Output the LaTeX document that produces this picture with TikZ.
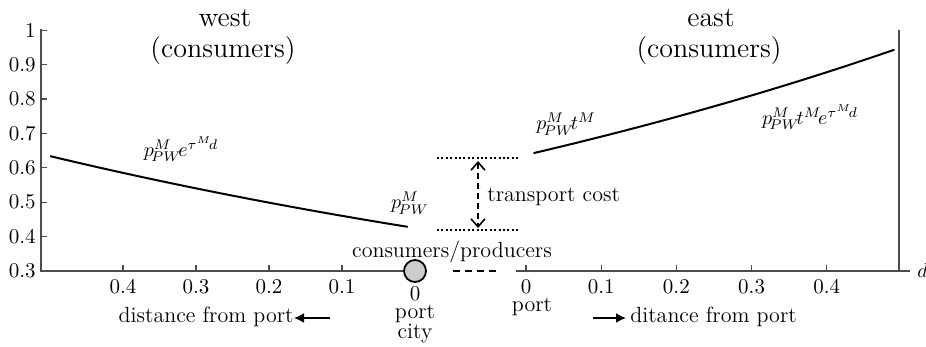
\documentclass[tikz,border=0pt]{standalone}
\usepackage{amsmath}
\usepackage{tikz}
\usetikzlibrary{calc,arrows.meta}

\begin{document}
\begin{tikzpicture}[x=0.5pt,y=-0.5pt,
  axis/.style={draw=black!70,line width=0.55pt},
  curve/.style={black,line width=1pt,line join=round},
  ticklab/.style={font=\fontsize{10.5}{12}\selectfont,inner sep=0pt},
  txt/.style={font=\fontsize{11}{13}\selectfont,inner sep=0pt},
  head/.style={font=\fontsize{14}{16}\selectfont,inner sep=0pt},
  mlab/.style={font=\fontsize{10}{12}\selectfont,inner sep=0pt},
  level/.style={dash pattern=on 1pt off 1.2pt,line width=0.9pt},
  gap/.style={dash pattern=on 3.5pt off 2.5pt,line width=0.7pt}]
\useasboundingbox (0,0) rectangle (926,347);

% axes
\draw[axis] (41,29) -- (41,271) -- (404,271);
\draw[axis] (516,271) -- (910,271);
\draw[axis] (899,30) -- (899,271);
\foreach \v/\lab [count=\i] in {0.3/0.3,0.4/0.4,0.5/0.5,0.6/0.6,0.7/0.7,0.8/0.8,0.9/0.9,1/1}
{
  \draw[axis] (41,{271-344*(\v-0.3)}) -- ++(6,0);
  \node[ticklab,anchor=east] (ylab\i) at (36,{271-344*(\v-0.3)}) {\lab};
}
\foreach \d [count=\i] in {0.1,0.2,0.3,0.4}
{
  \draw[axis] ({415-730*\d},271) -- ++(0,-6);
  \node[ticklab,anchor=base] (wlab\i) at ({415-730*\d},293) {\d};
}
\foreach \d [count=\i] in {0,0.1,0.2,0.3,0.4}
{
  \draw[axis] ({526+752*\d},271) -- ++(0,-6);
  \node[ticklab,anchor=base] (elab\i) at ({526+752*\d},293) {\d};
}
\node[mlab,anchor=west] (dvar) at (917,271) {$d$};

% port city
\node[circle,draw=black,fill=black!20,line width=0.9pt,minimum size=11pt,inner sep=0pt] (city) at (415,271) {};
\coordinate (gap-w) at (453,271);
\coordinate (gap-e) at (501,271);
\draw[gap] (gap-w) -- (gap-e);
\node[ticklab,anchor=base] (zero) at (415,300) {0};
\node[txt,anchor=base] (port-w) at (415,318) {port};
\node[txt,anchor=base] (city-lab) at (415,338) {city};
\node[txt,anchor=base] (port-e) at (532,312) {port};
\node[txt,anchor=base] (mixed) at (452,257) {consumers/producers};

% price curves
\draw[curve] plot[domain=0.01:0.5,samples=60] ({415-730*\x},{271-344*(0.425*exp(0.8*\x)-0.3)});
\draw[curve] plot[domain=0.01:0.49,samples=60] ({526+752*\x},{271-344*(0.6375*exp(0.8*\x)-0.3)});
\node[mlab] (pw-west) at (181,149) {$p^{M}_{\!PW}\!e^{\tau^{M}\!d}$};
\node[mlab] (pw-port) at (410,203) {$p^{M}_{\!PW}$};
\node[mlab] (pw-east) at (566,124) {$p^{M}_{\!PW}\!t^{M}$};
\node[mlab] (pw-far) at (810,117) {$p^{M}_{\!PW}\!t^{M}\!e^{\tau^{M}\!d}$};

% transport cost
\coordinate (hi-w) at (437,158);
\coordinate (hi-e) at (518,158);
\coordinate (lo-w) at (437,230);
\coordinate (lo-e) at (518,230);
\draw[level] (hi-w) -- (hi-e);
\draw[level] (lo-w) -- (lo-e);
\coordinate (tc-top) at (478,161);
\coordinate (tc-bot) at (478,228);
\draw[dash pattern=on 3pt off 2pt,line width=0.8pt,{Straight Barb[length=4pt,width=7pt]}-{Straight Barb[length=4pt,width=7pt]}] (tc-top) -- (tc-bot);
\node[txt,anchor=base west] (tcost) at (487,202) {transport cost};

% regions
\node[head,anchor=base] (west) at (225,27) {west};
\node[head,anchor=base] (west-who) at (223,58) {(consumers)};
\node[head,anchor=base] (east) at (711,27) {east};
\node[head,anchor=base] (east-who) at (709,58) {(consumers)};

% directions
\node[txt,anchor=base east] (dist-w) at (294,322) {distance from port};
\node[txt,anchor=base west] (dist-e) at (630,322) {ditance from port};
\coordinate (arr-w) at (330,318);
\coordinate (arr-e) at (593,318);
\draw[line width=0.8pt,-{Latex[length=5pt,width=5pt]}] (arr-w) -- (dist-w.east |- arr-w);
\draw[line width=0.8pt,-{Latex[length=5pt,width=5pt]}] (arr-e) -- ([xshift=-2pt]dist-e.west |- arr-e);
\end{tikzpicture}
\end{document}
